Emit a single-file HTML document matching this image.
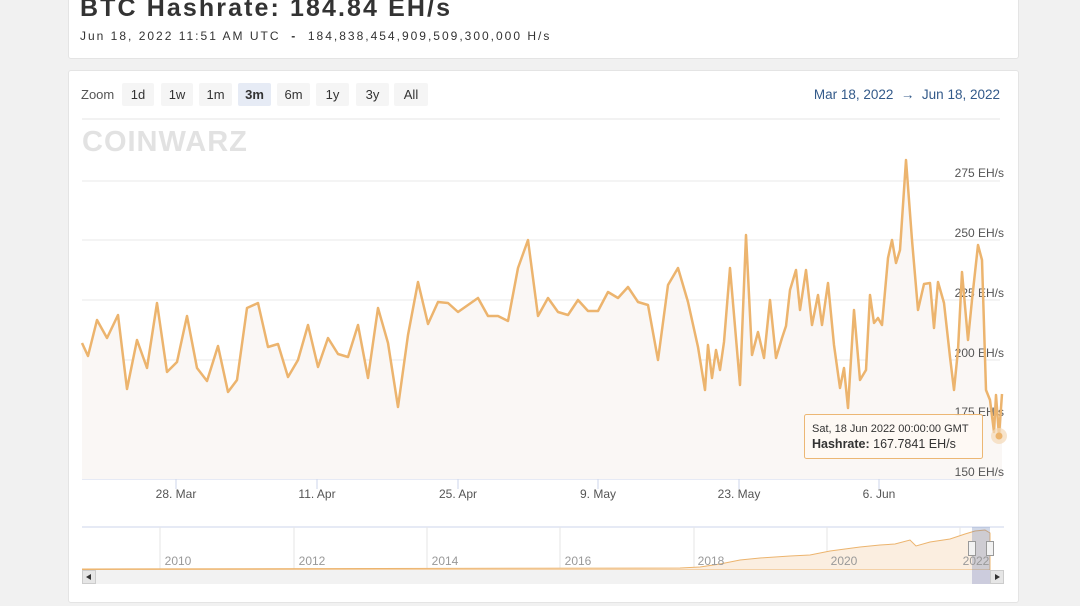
<!DOCTYPE html>
<html><head><style>
body{margin:0;width:1080px;height:606px;background:#f1f1f1;font-family:"Liberation Sans",sans-serif;overflow:hidden;position:relative}
.card{position:absolute;background:#fff;border:1px solid #e4e4e4;border-radius:3px}
.h1{position:absolute;left:80px;top:-6px;font-size:25px;font-weight:bold;color:#333;letter-spacing:2.1px}
.sub{position:absolute;left:80px;top:29px;font-size:12px;color:#333;letter-spacing:2.0px}
.btn{position:absolute;top:83px;height:23px;line-height:23px;font-size:13px;color:#333;background:#f5f5f5;text-align:center;border-radius:2px}
</style></head><body>
<div class="card" style="left:68px;top:-4px;width:949px;height:61px"></div>
<div class="h1">BTC Hashrate: 184.84 EH/s</div>
<div class="sub">Jun 18, 2022 11:51 AM UTC &nbsp;<b>-</b>&nbsp; 184,838,454,909,509,300,000 H/s</div>
<div class="card" style="left:68px;top:70px;width:949px;height:531px"></div>
<div style="position:absolute;left:81px;top:87px;font-size:13px;color:#555">Zoom</div>
<div class="btn" style="left:122px;width:32px">1d</div>
<div class="btn" style="left:161px;width:32px">1w</div>
<div class="btn" style="left:199px;width:33px">1m</div>
<div class="btn" style="left:238px;width:33px;background:#e6ebf5;font-weight:bold">3m</div>
<div class="btn" style="left:277px;width:33px">6m</div>
<div class="btn" style="left:316px;width:33px">1y</div>
<div class="btn" style="left:356px;width:33px">3y</div>
<div class="btn" style="left:394px;width:34px">All</div>
<div style="position:absolute;left:805px;top:87px;width:195px;font-size:13.5px;color:#335a8a;text-align:right;white-space:nowrap">Mar 18, 2022 &nbsp;→&nbsp; Jun 18, 2022</div>
<svg width="1080" height="606" style="position:absolute;left:0;top:0">
<line x1="82" y1="119" x2="1000" y2="119" stroke="#e6e6e6"/>
<text x="82" y="151" font-size="29" font-weight="bold" fill="#e2e2e2" font-family="Liberation Sans" letter-spacing="1">COINWARZ</text>
<g stroke="#e8e8e8"><line x1="82" y1="181" x2="1000" y2="181"/><line x1="82" y1="240" x2="1000" y2="240"/><line x1="82" y1="300" x2="1000" y2="300"/><line x1="82" y1="360" x2="1000" y2="360"/><line x1="82" y1="419" x2="1000" y2="419"/><line x1="82" y1="479" x2="1000" y2="479" stroke="#ccd6eb"/></g>
<g stroke="#ccd6eb"><line x1="176" y1="479" x2="176" y2="489"/><line x1="317" y1="479" x2="317" y2="489"/><line x1="458" y1="479" x2="458" y2="489"/><line x1="598" y1="479" x2="598" y2="489"/><line x1="739" y1="479" x2="739" y2="489"/><line x1="879" y1="479" x2="879" y2="489"/></g>
<g font-size="12" fill="#555" text-anchor="middle"><text x="176" y="498">28. Mar</text><text x="317" y="498">11. Apr</text><text x="458" y="498">25. Apr</text><text x="598" y="498">9. May</text><text x="739" y="498">23. May</text><text x="879" y="498">6. Jun</text></g>
<polyline fill="#faf7f5" stroke="none" points="82,479 82,343 88,356 97,320 107,338 118,315 127,389 137,340 147,368 157,303 167,372 177,362 187,316 197,368 207,381 218,346 228,392 237,380 247,308 258,303 268,347 278,344 288,377 298,360 308,325 318,367 328,338 338,354 348,357 358,325 368,378 378,308 388,343 398,407 408,335 418,282 428,324 438,302 448,303 458,312 468,305 478,298 488,316 498,316 508,321 518,268 528,240 538,316 548,298 558,312 568,315 578,300 588,311 598,311 608,292 618,298 628,287 638,302 648,305 658,360 668,285 678,268 688,302 698,347 705,390 708,345 712,378 716,350 720,370 724,342 730,268 740,385 746,235 752,355 758,332 764,358 770,300 776,358 782,338 786,326 790,290 796,270 800,310 806,270 812,325 818,295 822,325 828,283 834,345 840,388 844,368 848,408 854,310 860,380 866,370 870,295 874,323 878,318 882,325 888,258 892,240 896,263 900,250 906,160 912,240 918,310 924,284 930,283 934,328 938,282 944,303 950,357 954,390 958,350 962,272 968,340 972,300 978,245 982,260 986,390 990,400 994,432 996,395 999,436 1002,394 1002,479"/>
<g font-size="12" fill="#555" text-anchor="end"><text x="1004" y="177">275 EH/s</text><text x="1004" y="237">250 EH/s</text><text x="1004" y="297">225 EH/s</text><text x="1004" y="357">200 EH/s</text><text x="1004" y="416">175 EH/s</text><text x="1004" y="476">150 EH/s</text></g>
<polyline fill="none" stroke="#ecb46e" stroke-width="2.5" stroke-linejoin="round" points="82,343 88,356 97,320 107,338 118,315 127,389 137,340 147,368 157,303 167,372 177,362 187,316 197,368 207,381 218,346 228,392 237,380 247,308 258,303 268,347 278,344 288,377 298,360 308,325 318,367 328,338 338,354 348,357 358,325 368,378 378,308 388,343 398,407 408,335 418,282 428,324 438,302 448,303 458,312 468,305 478,298 488,316 498,316 508,321 518,268 528,240 538,316 548,298 558,312 568,315 578,300 588,311 598,311 608,292 618,298 628,287 638,302 648,305 658,360 668,285 678,268 688,302 698,347 705,390 708,345 712,378 716,350 720,370 724,342 730,268 740,385 746,235 752,355 758,332 764,358 770,300 776,358 782,338 786,326 790,290 796,270 800,310 806,270 812,325 818,295 822,325 828,283 834,345 840,388 844,368 848,408 854,310 860,380 866,370 870,295 874,323 878,318 882,325 888,258 892,240 896,263 900,250 906,160 912,240 918,310 924,284 930,283 934,328 938,282 944,303 950,357 954,390 958,350 962,272 968,340 972,300 978,245 982,260 986,390 990,400 994,432 996,395 999,436 1002,394"/>
<circle cx="999" cy="436" r="8" fill="#f3d9b6" opacity="0.7"/><circle cx="999" cy="436" r="3.5" fill="#ecb46e"/>
<rect x="804.5" y="414.5" width="178" height="44" fill="#fffaf4" stroke="#ecb46e" rx="2" opacity="0.95"/>
<text x="812" y="432" font-size="11" fill="#333">Sat, 18 Jun 2022 00:00:00 GMT</text>
<text x="812" y="448" font-size="12.5" fill="#333"><tspan font-weight="bold">Hashrate:</tspan> 167.7841 EH/s</text>
<line x1="82" y1="527" x2="1004" y2="527" stroke="#ccd6eb"/>
<g stroke="#e6e6e6"><line x1="160" y1="527" x2="160" y2="570"/><line x1="294" y1="527" x2="294" y2="570"/><line x1="427" y1="527" x2="427" y2="570"/><line x1="560" y1="527" x2="560" y2="570"/><line x1="694" y1="527" x2="694" y2="570"/><line x1="827" y1="527" x2="827" y2="570"/><line x1="960" y1="527" x2="960" y2="570"/></g>
<polyline fill="#fbeee0" stroke="#ecb46e" stroke-width="1" points="82,569 680,568 700,567 720,564 740,560 760,558 790,556 810,555 830,551 860,547 880,545 895,544 910,540 916,546 930,542 950,539 965,534 975,531 985,530 990,533 990,570 82,570"/>
<rect x="972" y="527" width="18" height="43" fill="#667fb2" opacity="0.3"/>
<g fill="#f2f2f2" stroke="#999"><rect x="968.5" y="541.5" width="7" height="14"/><rect x="986.5" y="541.5" width="7" height="14"/></g>
<g font-size="12" fill="#999" text-anchor="middle"><text x="178" y="565">2010</text><text x="312" y="565">2012</text><text x="445" y="565">2014</text><text x="578" y="565">2016</text><text x="711" y="565">2018</text><text x="844" y="565">2020</text><text x="976" y="565">2022</text></g>
<rect x="82" y="570" width="922" height="14" fill="#f2f2f2"/>
<rect x="972" y="570" width="18" height="14" fill="#ccd"/>
<rect x="82.5" y="570.5" width="13" height="13" fill="#e6e6e6" stroke="#ccc"/><path d="M91,574 L86,577 L91,580Z" fill="#333"/>
<rect x="990.5" y="570.5" width="13" height="13" fill="#e6e6e6" stroke="#ccc"/><path d="M995,574 L1000,577 L995,580Z" fill="#333"/>
</svg>
</body></html>
